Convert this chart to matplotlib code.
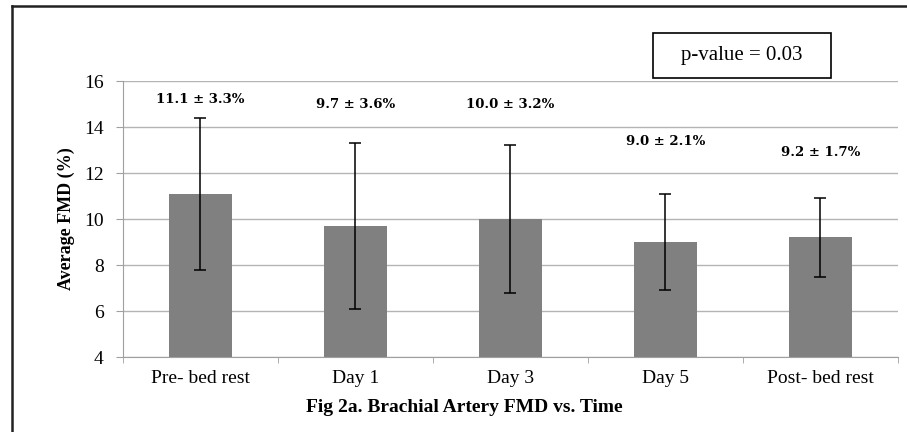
import matplotlib.pyplot as plt
from matplotlib.lines import Line2D
from matplotlib.patches import Rectangle
import numpy as np

categories = ["Pre- bed rest", "Day 1", "Day 3", "Day 5", "Post- bed rest"]
means = [11.1, 9.7, 10.0, 9.0, 9.2]
sds = [3.3, 3.6, 3.2, 2.1, 1.7]
label_text = ["11.1 \u00b1 3.3%", "9.7 \u00b1 3.6%", "10.0 \u00b1 3.2%",
              "9.0 \u00b1 2.1%", "9.2 \u00b1 1.7%"]
label_y = [15.2, 15.0, 15.0, 13.35, 12.9]
y_ticks = [4, 6, 8, 10, 12, 14, 16]

serif = "Liberation Serif"

fig = plt.figure(figsize=(9.07, 4.32), dpi=100)
ax = fig.add_axes([0.1356, 0.1736, 0.8544, 0.6389])

x = np.arange(len(categories))
ax.bar(x, means, width=0.41, color="#808080", zorder=2)
ax.errorbar(x, means, yerr=sds, fmt="none", ecolor="black",
            elinewidth=1.1, capsize=4.5, capthick=1.1, zorder=3)

for i in range(len(x)):
    ax.text(x[i], label_y[i], label_text[i], ha="center", va="center",
            fontsize=9.5, fontweight="bold", family="DejaVu Serif")

ax.set_ylim(4, 16)
ax.set_xlim(-0.5, len(categories) - 0.5)
ax.set_yticks(y_ticks)
ax.yaxis.grid(True, color="#b4b4b4", linewidth=1, zorder=0)
ax.set_axisbelow(True)

ax.set_xticks(x)
ax.set_xticklabels(categories, family=serif, fontsize=14)
ax.tick_params(axis="x", length=0, pad=9)
ax.set_xticks(np.arange(len(categories) + 1) - 0.5, minor=True)
ax.tick_params(axis="x", which="minor", length=4, color="#a0a0a0")
ax.tick_params(axis="y", length=5, color="#a0a0a0", labelsize=14, pad=9)
for lbl in ax.get_yticklabels():
    lbl.set_family(serif)

for side in ["top", "right"]:
    ax.spines[side].set_visible(False)
ax.spines["left"].set_color("#a0a0a0")
ax.spines["bottom"].set_color("#a0a0a0")

ax.set_ylabel("Average FMD (%)", family=serif, fontweight="bold",
              fontsize=13, labelpad=6)

fig.text(0.5116, 0.056, "Fig 2a. Brachial Artery FMD vs. Time", ha="center",
         va="center", family=serif, fontweight="bold", fontsize=14)

# p-value box
fig.add_artist(Rectangle((0.72, 0.8194), 0.196, 0.104, facecolor="white",
                         edgecolor="black", linewidth=1.2,
                         transform=fig.transFigure))
fig.text(0.818, 0.871, "p-value = 0.03", ha="center", va="center",
         family=serif, fontsize=15)

# outer frame (left and top edges only are visible)
fig.add_artist(Line2D([0.0132, 0.0132], [0.0, 0.986], color="#222222",
                      linewidth=1.8, transform=fig.transFigure))
fig.add_artist(Line2D([0.0132, 1.0], [0.986, 0.986], color="#222222",
                      linewidth=1.8, transform=fig.transFigure))

plt.savefig("out.png", dpi=100)
